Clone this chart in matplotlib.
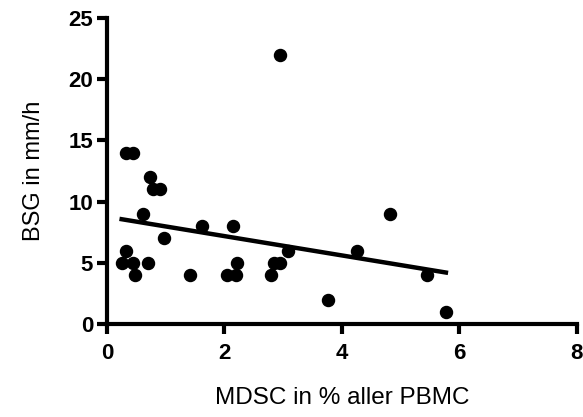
import numpy as np
import matplotlib.pyplot as plt

plt.rcParams['font.family'] = ['Liberation Sans', 'DejaVu Sans']

# MDSC (% aller PBMC) und BSG (mm/h)
mdsc = [0.32, 0.45, 0.74, 0.79, 0.90, 0.62, 0.97, 0.32, 0.25, 0.45, 0.48, 0.70,
        1.41, 1.62, 2.15, 2.05, 2.20, 2.21, 2.80, 2.84, 2.94, 2.94, 3.09,
        4.82, 4.25, 3.77, 5.44, 5.77]
bsg = [14, 14, 12, 11, 11, 9, 7, 6, 5, 5, 4, 5,
       4, 8, 8, 4, 4, 5, 4, 5, 5, 22, 6,
       9, 6, 2, 4, 1]

x = np.array(mdsc)
y = np.array(bsg)
k, d = np.polyfit(x, y, 1)
xf = np.array([x.min(), x.max()])

fig = plt.figure(figsize=(5.83, 4.17), dpi=100)
ax = fig.add_axes([0.1835, 0.223, 0.806, 0.734])
ax.scatter(x, y, s=75, color="black", zorder=3, clip_on=False)
ax.plot(xf, k*xf+d, color="black", lw=3.2, zorder=2)

ax.set_xlim(0, 8)
ax.set_ylim(0, 25)
ax.set_xticks([0, 2, 4, 6, 8])
ax.set_yticks([0, 5, 10, 15, 20, 25])
for s in ["top", "right"]:
    ax.spines[s].set_visible(False)
for s in ["left", "bottom"]:
    ax.spines[s].set_linewidth(3)
ax.tick_params(direction="out", length=7.5, width=3, labelsize=16)
ax.tick_params(axis="x", pad=6)
ax.tick_params(axis="y", pad=2.5)
for lab in ax.get_xticklabels() + ax.get_yticklabels():
    lab.set_fontweight("bold")
ax.set_xlabel("MDSC in % aller PBMC", fontsize=17.5, labelpad=17)
ax.set_ylabel("BSG in mm/h", fontsize=17, labelpad=17)

fig.savefig("out.png", dpi=100)
